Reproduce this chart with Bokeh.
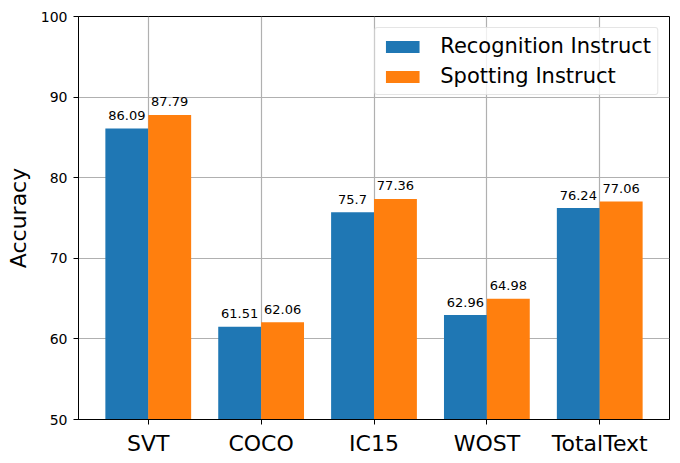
from bokeh.plotting import figure
from bokeh.models import ColumnDataSource, Range1d, FixedTicker, Legend, LegendItem
from bokeh.embed import file_html
from bokeh.resources import INLINE
from bokeh.core.properties import value

categories = ["SVT", "COCO", "IC15", "WOST", "TotalText"]
recognition = [86.09, 61.51, 75.70, 62.96, 76.24]
spotting = [87.79, 62.06, 77.36, 64.98, 77.06]
recognition_labels = ["86.09", "61.51", "75.7", "62.96", "76.24"]
spotting_labels = ["87.79", "62.06", "77.36", "64.98", "77.06"]
y_ticks = [50, 60, 70, 80, 90, 100]

FONT = "DejaVu Sans"
W = 0.38
xs = list(range(len(categories)))
span = (len(categories) - 1) + 2 * W
margin = 0.05 * span

p = figure(width=680, height=463, output_backend="svg", toolbar_location=None,
           x_range=Range1d(-W - margin, len(categories) - 1 + W + margin),
           y_range=Range1d(50, 100),
           min_border_left=78, min_border_right=11, min_border_top=16, min_border_bottom=44)
p.background_fill_color = "white"
p.border_fill_color = "white"
p.outline_line_color = "black"
p.outline_line_width = 1

src_r = ColumnDataSource(dict(x=[x - W / 2 for x in xs], top=recognition, lab=recognition_labels))
src_s = ColumnDataSource(dict(x=[x + W / 2 for x in xs], top=spotting, lab=spotting_labels))

r1 = p.vbar(x="x", top="top", bottom=50, width=W, source=src_r, fill_color="#1f77b4", line_color=None)
r2 = p.vbar(x="x", top="top", bottom=50, width=W, source=src_s, fill_color="#ff7f0e", line_color=None)

for src in (src_r, src_s):
    p.text(x="x", y="top", text="lab", source=src, text_align="center", text_baseline="alphabetic",
           y_offset=-13, text_font=value(FONT), text_font_size="13px", text_color="black")

# axes
p.xaxis.ticker = FixedTicker(ticks=xs)
p.xaxis.major_label_overrides = {i: c for i, c in enumerate(categories)}
p.yaxis.ticker = FixedTicker(ticks=y_ticks)
for ax in (p.xaxis[0], p.yaxis[0]):
    ax.axis_line_color = "black"
    ax.axis_line_width = 1
    ax.major_tick_line_color = "black"
    ax.major_tick_out = 5
    ax.major_tick_in = 0
    ax.minor_tick_line_color = None
    ax.major_label_text_font = FONT
    ax.major_label_text_color = "black"
    ax.major_label_standoff = 6
p.xaxis.major_label_text_font_size = "22px"
p.yaxis.major_label_text_font_size = "14px"
p.yaxis.axis_label = "Accuracy"
p.yaxis.axis_label_text_font = FONT
p.yaxis.axis_label_text_font_size = "22px"
p.yaxis.axis_label_text_font_style = "normal"
p.yaxis.axis_label_text_color = "black"
p.yaxis.axis_label_standoff = 7

p.xgrid.ticker = FixedTicker(ticks=xs)
p.ygrid.ticker = FixedTicker(ticks=y_ticks)
for g in (p.xgrid[0], p.ygrid[0]):
    g.grid_line_color = "#b0b0b0"
    g.grid_line_width = 1.2

legend = Legend(items=[LegendItem(label="Recognition Instruct", renderers=[r1]),
                       LegendItem(label="Spotting Instruct", renderers=[r2])],
                location="top_right")
legend.margin = 11
legend.padding = 6
legend.spacing = 6
legend.glyph_width = 42
legend.glyph_height = 15
legend.label_height = 20
legend.label_standoff = 17
legend.label_text_font = FONT
legend.label_text_font_size = "21px"
legend.label_text_color = "black"
legend.border_line_color = "#cccccc"
legend.border_line_width = 1
legend.background_fill_alpha = 0.8
legend.border_radius = 3
p.add_layout(legend)

open("out.html", "w").write(file_html(p, INLINE))
